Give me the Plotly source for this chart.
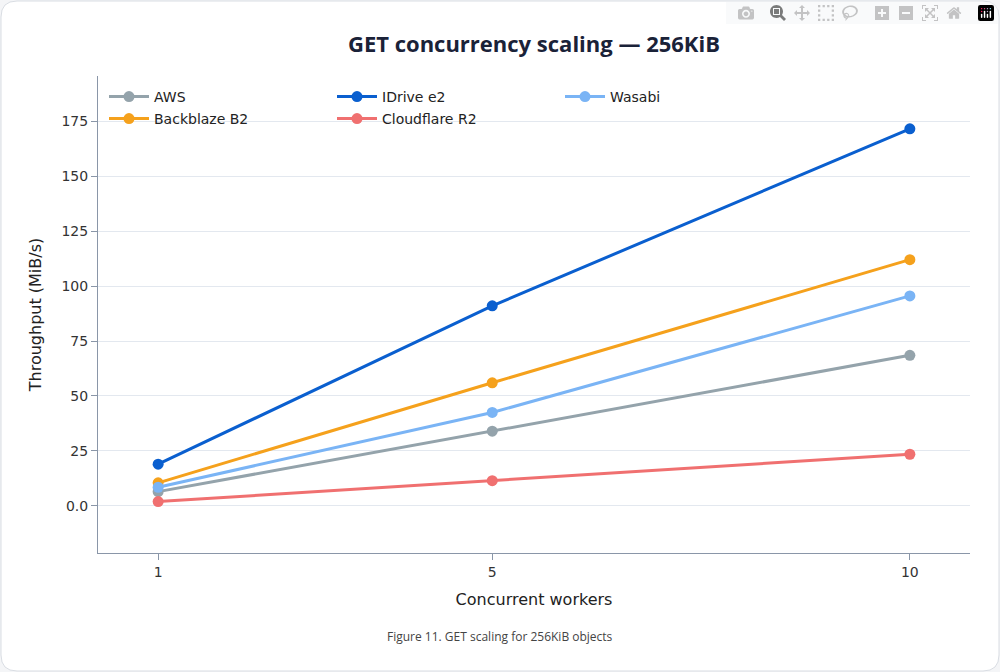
import plotly.graph_objects as go

# ==============================
# Data
# ==============================
workers = [1, 5, 10]
series = {
    "AWS": [6.5, 34, 68.5],
    "Backblaze B2": [10.5, 56, 112],
    "IDrive e2": [19, 91, 171.5],
    "Cloudflare R2": [2, 11.5, 23.5],
    "Wasabi": [8.5, 42.5, 95.5],
}
colors = {
    "AWS": "#94a3ab",
    "Backblaze B2": "#f5a11c",
    "IDrive e2": "#0a5fcf",
    "Cloudflare R2": "#f07070",
    "Wasabi": "#7ab4f5",
}
legend_row1 = ["AWS", "IDrive e2", "Wasabi"]
y_ticks = [0, 25, 50, 75, 100, 125, 150, 175]
y_labels = ["0.0", "25", "50", "75", "100", "125", "150", "175"]

# ==============================
# Layout helpers
# ==============================
W, H = 1000, 672
ML, MR, MT, MB = 98, 30, 76, 119
PW, PH = W - ML - MR, H - MT - MB
AXIS_FONT = "DejaVu Sans"

def px(x):
    return (x - ML) / PW

def py(y):
    return (H - MB - y) / PH

def card_path(x0, y0, x1, y1, r):
    pts = [
        f"M {px(x0 + r)} {py(y0)}",
        f"L {px(x1 - r)} {py(y0)}",
        f"Q {px(x1)} {py(y0)} {px(x1)} {py(y0 + r)}",
        f"L {px(x1)} {py(y1 - r)}",
        f"Q {px(x1)} {py(y1)} {px(x1 - r)} {py(y1)}",
        f"L {px(x0 + r)} {py(y1)}",
        f"Q {px(x0)} {py(y1)} {px(x0)} {py(y1 - r)}",
        f"L {px(x0)} {py(y0 + r)}",
        f"Q {px(x0)} {py(y0)} {px(x0 + r)} {py(y0)}",
        "Z",
    ]
    return " ".join(pts)

# ==============================
# Figure
# ==============================
fig = go.Figure()
for name, vals in series.items():
    fig.add_trace(go.Scatter(
        x=workers, y=vals, name=name, mode="lines+markers",
        line=dict(color=colors[name], width=3),
        marker=dict(size=11, color=colors[name]),
        legend="legend" if name in legend_row1 else "legend2",
    ))

fig.add_shape(type="path", path=card_path(1, 1, 999, 671, 16),
              xref="paper", yref="paper", layer="below",
              line=dict(color="#d9dde3", width=1), fillcolor="white")

fig.add_annotation(text="Figure 11. GET scaling for 256KiB objects",
                   x=px(W / 2), xref="paper", y=py(636), yref="paper",
                   xanchor="center", yanchor="middle", showarrow=False,
                   font=dict(family="Open Sans", size=12, color="#444"))

leg = dict(orientation="h", xanchor="left", yanchor="middle",
           bgcolor="rgba(0,0,0,0)", font=dict(family=AXIS_FONT, size=14, color="#222"),
           entrywidth=173, entrywidthmode="pixels", itemwidth=40,
           traceorder="normal")

fig.update_layout(
    width=W, height=H,
    margin=dict(l=ML, r=MR, t=MT, b=MB),
    paper_bgcolor="#f4f5f7", plot_bgcolor="white",
    font=dict(family=AXIS_FONT, color="#222"),
    title=dict(text="<b>GET concurrency scaling — 256KiB</b>",
               x=534 / W, xanchor="center", y=1 - 44 / H, yanchor="middle",
               font=dict(family="Open Sans", size=22, color="#1a2238")),
    legend=dict(leg, x=px(104), y=py(97)),
    legend2=dict(leg, x=px(104), y=py(119)),
    xaxis=dict(range=[0.28, 10.72], tickvals=workers, ticks="outside",
               ticklen=6, tickcolor="#8a96a8", showgrid=False,
               showline=True, linecolor="#8a96a8", zeroline=False,
               title=dict(text="Concurrent workers", font=dict(size=16)),
               tickfont=dict(size=14, color="#333")),
    yaxis=dict(range=[-21.4, 195.5], tickvals=y_ticks, ticktext=y_labels,
               ticks="outside", ticklen=6, tickcolor="#8a96a8",
               showgrid=True, gridcolor="#e3e8ef", zeroline=False,
               showline=True, linecolor="#8a96a8",
               title=dict(text="Throughput (MiB/s)", font=dict(size=16)),
               tickfont=dict(size=14, color="#333")),
)

fig.write_html("out.html", post_script="document.body.style.margin='0';document.body.style.overflow='hidden';")
